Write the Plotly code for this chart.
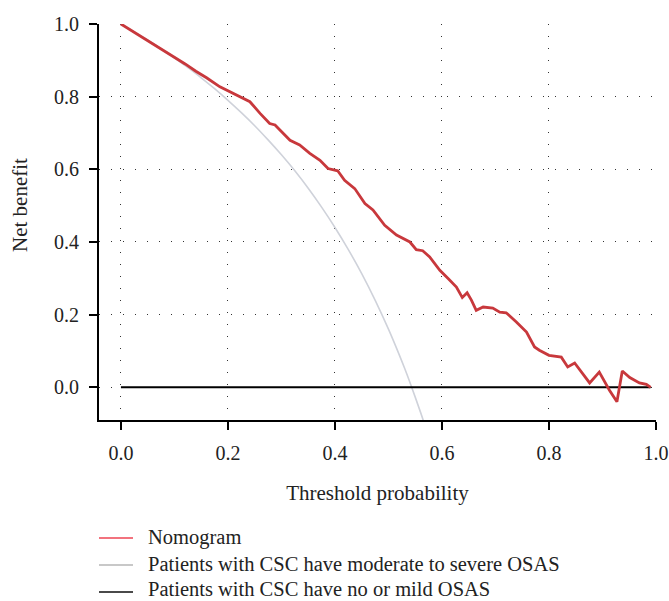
import plotly.graph_objects as go

# ---- data ----
threshold_nomogram = [0, 0.02, 0.04, 0.06, 0.08, 0.10, 0.12, 0.14, 0.16,
                      0.185, 0.205, 0.222, 0.241, 0.26, 0.278, 0.288, 0.30, 0.316, 0.334,
                      0.353, 0.372, 0.387, 0.405, 0.418, 0.437, 0.456, 0.471, 0.493, 0.515,
                      0.54, 0.552, 0.564, 0.577, 0.596, 0.611, 0.627, 0.638, 0.647, 0.655,
                      0.664, 0.677, 0.695, 0.708, 0.72, 0.739, 0.758, 0.773, 0.782, 0.80,
                      0.823, 0.835, 0.848, 0.876, 0.894, 0.913, 0.927, 0.937, 0.951, 0.969,
                      0.982, 0.99]
nb_nomogram = [1.0, 0.982, 0.963, 0.945, 0.926, 0.909, 0.890, 0.870, 0.852,
               0.827, 0.812, 0.800, 0.786, 0.754, 0.726, 0.722, 0.703, 0.680, 0.667,
               0.644, 0.625, 0.602, 0.596, 0.570, 0.547, 0.506, 0.488, 0.446, 0.419,
               0.400, 0.379, 0.376, 0.359, 0.322, 0.300, 0.276, 0.247, 0.260, 0.240,
               0.212, 0.221, 0.218, 0.207, 0.205, 0.180, 0.152, 0.111, 0.102, 0.088,
               0.083, 0.056, 0.067, 0.012, 0.042, -0.008, -0.040, 0.045, 0.027, 0.012,
               0.008, 0.0]

threshold_all = [0, 0.025, 0.05, 0.075, 0.10, 0.125, 0.15, 0.175, 0.20, 0.225, 0.25,
                 0.275, 0.30, 0.325, 0.35, 0.375, 0.40, 0.425, 0.45, 0.475, 0.50,
                 0.52, 0.53, 0.54, 0.55, 0.56, 0.57, 0.58]
nb_all = [1.0, 0.978, 0.956, 0.932, 0.907, 0.880, 0.852, 0.822, 0.790, 0.756, 0.720,
          0.681, 0.640, 0.596, 0.548, 0.496, 0.440, 0.379, 0.313, 0.240, 0.160,
          0.090, 0.053, 0.014, -0.027, -0.069, -0.113, -0.160]

threshold_none = [0, 0.99]
nb_none = [0, 0]

names = ["Nomogram",
         "Patients with CSC have moderate to severe OSAS",
         "Patients with CSC have no or mild OSAS"]
legend_colors = ["#f2737e", "#c8c8c8", "#4a4a4a"]

x_ticks = [0.0, 0.2, 0.4, 0.6, 0.8, 1.0]
y_ticks = [0.0, 0.2, 0.4, 0.6, 0.8, 1.0]

FONT = "Liberation Serif"
W, H = 669, 601
L, R, T, B = 99, 13, 24, 181
PW, PH = W - L - R, H - T - B


def px_to_paper_x(px):
    return (px - L) / PW


def px_to_paper_y(py):
    return (H - B - py) / PH


fig = go.Figure()
fig.add_trace(go.Scatter(x=threshold_all, y=nb_all, mode="lines", name=names[1],
                         line=dict(color="#cfd2da", width=1.6, shape="spline"),
                         showlegend=False, hoverinfo="skip"))
fig.add_trace(go.Scatter(x=threshold_none, y=nb_none, mode="lines", name=names[2],
                         line=dict(color="#000000", width=2), showlegend=False))
fig.add_trace(go.Scatter(x=threshold_nomogram, y=nb_nomogram, mode="lines", name=names[0],
                         line=dict(color="#c8383c", width=2.8), showlegend=False))

axis_common = dict(showline=True, linecolor="black", linewidth=2, ticks="outside", ticklen=8,
                   tickwidth=2, tickcolor="black", zeroline=False, showgrid=True,
                   gridcolor="#333333", gridwidth=1.3, griddash="1.3px,10.7px",
                   tickfont=dict(family=FONT, size=20, color="#222"), mirror=False)

# legend drawn below the plot (sample line + label per series)
legend_line_y = [538, 565, 592]
legend_text_y = [537, 564, 589]
shapes = []
annotations = []
for nm, c, ly, ty in zip(names, legend_colors, legend_line_y, legend_text_y):
    shapes.append(dict(type="line", xref="paper", yref="paper",
                       x0=px_to_paper_x(99), x1=px_to_paper_x(133),
                       y0=px_to_paper_y(ly), y1=px_to_paper_y(ly),
                       line=dict(color=c, width=2)))
    annotations.append(dict(text=nm, xref="paper", yref="paper",
                            x=px_to_paper_x(146), y=px_to_paper_y(ty),
                            xanchor="left", yanchor="middle", showarrow=False,
                            font=dict(family=FONT, size=20.5, color="#222")))

# y-axis title
annotations.append(dict(text="Net benefit", xref="paper", yref="paper",
                        x=px_to_paper_x(20), y=px_to_paper_y(205), textangle=-90,
                        xanchor="center", yanchor="middle", showarrow=False,
                        font=dict(family=FONT, size=21, color="#222")))

fig.update_layout(
    width=W, height=H,
    margin=dict(l=L, r=R, t=T, b=B, autoexpand=False),
    paper_bgcolor="white", plot_bgcolor="white",
    font=dict(family=FONT, size=20, color="#222"),
    xaxis=dict(range=[-0.041, 1.0], tickvals=x_ticks, ticktext=[f"{v:.1f}" for v in x_ticks],
               ticklabelstandoff=6, automargin=True,
               title=dict(text="Threshold probability", font=dict(family=FONT, size=21), standoff=22),
               **axis_common),
    yaxis=dict(range=[-0.09, 1.0], tickvals=y_ticks, ticktext=[f"{v:.1f}" for v in y_ticks],
               ticklabelstandoff=6, automargin=False,
               **axis_common),
    shapes=shapes,
    annotations=annotations,
    showlegend=False,
)

fig.write_html("out.html")
